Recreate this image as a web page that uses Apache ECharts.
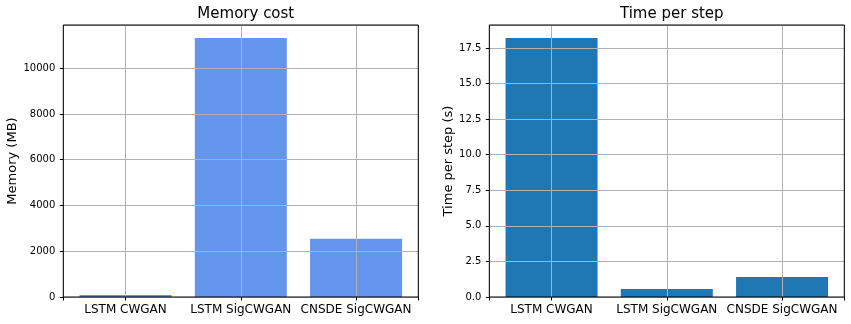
<!DOCTYPE html>
<html>
<head>
<meta charset="utf-8">
<script src="https://cdn.jsdelivr.net/npm/echarts@6/dist/echarts.min.js"></script>
<style>html,body{margin:0;padding:0;background:#fff}#c{width:851px;height:324px}</style>
</head>
<body>
<div id="c"></div>
<script>
var categories = ['LSTM CWGAN', 'LSTM SigCWGAN', 'CNSDE SigCWGAN'];
var memoryValues = [90, 11320, 2540];
var timeValues = [18.2, 0.56, 1.41];
var memoryTicks = [0, 2000, 4000, 6000, 8000, 10000];
var timeTicks = [0, 2.5, 5, 7.5, 10, 12.5, 15, 17.5];

var FONT = 'DejaVu Sans';
function xAxisFor(gi) {
  return {
    gridIndex: gi, type: 'value', min: -0.54, max: 2.54, splitNumber: 3, z: 5,
    axisLine: {show: false, onZero: false},
    axisTick: {show: true, length: 3.5, lineStyle: {color: '#000', width: 1}, inside: false},
    splitLine: {show: true, lineStyle: {color: '#b0b0b0', width: 1}},
    axisLabel: {
      margin: 7, fontFamily: FONT, fontSize: 12, color: '#000',
      showMinLabel: true, showMaxLabel: true,
      formatter: function (v) {
        var i = Math.round(v);
        return Math.abs(v - i) < 1e-6 && categories[i] !== undefined ? categories[i] : '';
      }
    }
  };
}
function yAxisFor(gi, maxV, step, name, fmt) {
  return {
    gridIndex: gi, type: 'value', min: 0, max: maxV, interval: step, z: 5,
    name: name, nameLocation: 'middle', nameGap: 0,
    nameTextStyle: {fontFamily: FONT, fontSize: 13, color: '#000'},
    axisLine: {show: false, onZero: false},
    axisTick: {show: true, length: 3.5, lineStyle: {color: '#000', width: 1}},
    splitLine: {show: true, lineStyle: {color: '#b0b0b0', width: 1}},
    axisLabel: {margin: 8, fontFamily: FONT, fontSize: 10, color: '#000', showMaxLabel: false, formatter: fmt}
  };
}
var memMax = 11320 * 1.05;
var timeMax = 18.2 * 1.05;
var memTickStep = memoryTicks[1] - memoryTicks[0];
var timeTickStep = timeTicks[1] - timeTicks[0];

var chart = echarts.init(document.getElementById('c'), null, {renderer: 'canvas'});
var ya0 = yAxisFor(0, memMax, memTickStep, 'Memory (MB)', function (v) { return memoryTicks.indexOf(v) >= 0 ? String(v) : ''; });
ya0.nameGap = 44.5;
var ya1 = yAxisFor(1, timeMax, timeTickStep, 'Time per step (s)', function (v) { return timeTicks.indexOf(v) >= 0 ? v.toFixed(1) : ''; });
ya1.nameGap = 34.5;
chart.setOption({
  animation: false,
  title: [
    {text: 'Memory cost', left: 240.8, top: 2, textAlign: 'center', textStyle: {fontFamily: FONT, fontSize: 15, fontWeight: 'normal', color: '#000'}},
    {text: 'Time per step', left: 666.8, top: 2, textAlign: 'center', textStyle: {fontFamily: FONT, fontSize: 15, fontWeight: 'normal', color: '#000'}}
  ],
  grid: [
    {left: 63.3, top: 25, width: 355, height: 272, show: true, borderColor: '#000', borderWidth: 1, z: 6, backgroundColor: 'transparent'},
    {left: 489.3, top: 25, width: 355, height: 272, show: true, borderColor: '#000', borderWidth: 1, z: 6, backgroundColor: 'transparent'}
  ],
  xAxis: [xAxisFor(0), xAxisFor(1)],
  yAxis: [ya0, ya1],
  series: [
    {type: 'bar', xAxisIndex: 0, yAxisIndex: 0, barWidth: 92, z: 2,
      itemStyle: {color: '#6495ED'},
      data: memoryValues.map(function (v, i) { return [i, v]; })},
    {type: 'bar', xAxisIndex: 1, yAxisIndex: 1, barWidth: 92, z: 2,
      itemStyle: {color: '#1f77b4'},
      data: timeValues.map(function (v, i) { return [i, v]; })}
  ]
});
</script>
</body>
</html>
